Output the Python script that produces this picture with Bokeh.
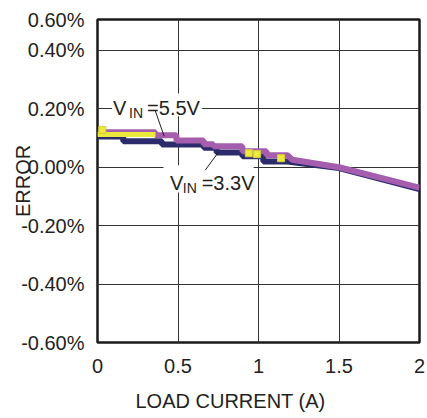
import math
from bokeh.plotting import figure
from bokeh.models import Range1d, FixedTicker, Label, Title
from bokeh.embed import file_html
from bokeh.resources import INLINE

# ---- data (load current in A, error in %) ----
i_55 = [0, 0.36, 0.36, 0.49, 0.49, 0.66, 0.66, 0.72, 0.72, 0.9, 0.9, 1.05, 1.05, 1.18, 1.21, 1.5, 2.0]
e_55 = [0.12, 0.12, 0.11, 0.11, 0.092, 0.092, 0.079, 0.079, 0.072, 0.072, 0.055, 0.055, 0.041, 0.041, 0.026, 0.0, -0.07]

i_33 = [0, 0.16, 0.16, 0.40, 0.40, 0.66, 0.66, 0.74, 0.74, 0.9, 0.9, 1.03, 1.03, 1.18, 1.5, 2.0]
e_33 = [0.105, 0.105, 0.089, 0.089, 0.078, 0.078, 0.067, 0.067, 0.051, 0.051, 0.038, 0.038, 0.02, 0.02, -0.003, -0.075]

i_y_line = [0, 0.36]
e_y_line = [0.112, 0.112]
i_y_pts = [0.03, 0.94, 0.99, 1.14]
e_y_pts = [0.128, 0.048, 0.045, 0.031]

x_ticks = [0, 0.5, 1, 1.5, 2]
x_tick_labels = ["0", "0.5", "1", "1.5", "2"]
y_ticks = [-0.6, -0.4, -0.2, 0.0, 0.2, 0.4, 0.506]
y_tick_labels = ["-0.60%", "-0.40%", "-0.20%", "0.00%", "0.20%", "0.40%", "0.60%"]

FONT = "Liberation Sans"
TXT = "#231f20"

p = figure(width=427, height=418, output_backend="svg", toolbar_location=None,
           x_range=Range1d(0, 2), y_range=Range1d(-0.6, 0.506),
           min_border_left=97, min_border_right=8, min_border_top=19, min_border_bottom=0)
p.frame_width = 322
p.frame_height = 323

p.outline_line_color = "#1a1a1a"
p.outline_line_width = 2.5
p.background_fill_color = "white"
p.border_fill_color = "white"

for ax in (p.xaxis[0], p.yaxis[0]):
    ax.axis_line_color = None
    ax.major_tick_line_color = None
    ax.minor_tick_line_color = None
    ax.major_label_text_font = FONT
    ax.major_label_text_font_size = "20px"
    ax.major_label_text_color = TXT

p.xaxis.ticker = FixedTicker(ticks=x_ticks)
p.xaxis.major_label_overrides = {t: l for t, l in zip(x_ticks, x_tick_labels)}
p.xaxis.major_label_standoff = 10
p.yaxis.ticker = FixedTicker(ticks=y_ticks)
p.yaxis.major_label_overrides = {t: l for t, l in zip(y_ticks, y_tick_labels)}
p.yaxis.major_label_standoff = 7

p.yaxis.axis_label = "ERROR"
p.yaxis.axis_label_text_font = FONT
p.yaxis.axis_label_text_font_size = "20px"
p.yaxis.axis_label_text_font_style = "normal"
p.yaxis.axis_label_text_color = TXT
p.yaxis.axis_label_standoff = -16

# x axis title, left of centre as in the original
xt = Title(text="LOAD CURRENT (A)", align="left", offset=38, standoff=25,
           text_font=FONT, text_font_size="20px", text_font_style="normal",
           text_color=TXT)
p.add_layout(xt, "below")

p.xgrid.ticker = FixedTicker(ticks=[0.5, 1, 1.5])
p.ygrid.ticker = FixedTicker(ticks=[-0.4, -0.2, 0.0, 0.2, 0.4])
for g in (p.xgrid[0], p.ygrid[0]):
    g.grid_line_color = "#333333"
    g.grid_line_width = 1

# white boxes behind the annotations (they hide the grid, as in the original)
p.quad(left=[0.09, 0.41], right=[0.65, 0.97], top=[0.253, 0.007], bottom=[0.175, -0.086],
       fill_color="white", line_color=None)

# series
p.line(i_33, e_33, line_color="#2c2c6c", line_width=6)
p.line(i_55, e_55, line_color="#a55dad", line_width=6)
p.line(i_y_line, e_y_line, line_color="#ece83c", line_width=5)
p.scatter(i_y_pts, e_y_pts, marker="square", size=7, fill_color="#ece83c", line_color="#d6cf3a")

# leader lines
p.segment(x0=[0.358, 0.669], y0=[0.195, -0.01], x1=[0.414, 0.75], y1=[0.106, 0.051],
          line_color="#231f20", line_width=1)

def add_vin(x0, xb, xe, yb, rest):
    p.add_layout(Label(x=x0, y=yb, text="V", text_font=FONT, text_font_size="20px",
                       text_color=TXT, text_baseline="alphabetic"))
    p.add_layout(Label(x=xb, y=yb - 0.017, text="IN", text_font=FONT, text_font_size="14px",
                       text_color=TXT, text_baseline="alphabetic"))
    p.add_layout(Label(x=xe, y=yb, text=rest, text_font=FONT, text_font_size="20px",
                       text_color=TXT, text_baseline="alphabetic"))

add_vin(0.096, 0.196, 0.308, 0.202, "=5.5V")
add_vin(0.451, 0.53, 0.647, -0.055, "=3.3V")

open("out.html", "w").write(file_html(p, INLINE))
